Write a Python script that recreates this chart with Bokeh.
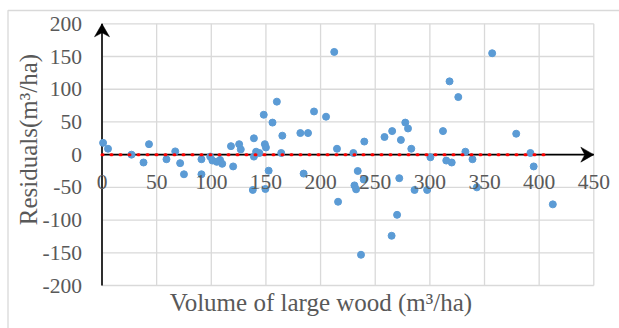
from bokeh.plotting import figure
from bokeh.models import Range1d
from bokeh.core.properties import value
from bokeh.embed import file_html
from bokeh.resources import INLINE

# ---- data ----
volume = [1, 5.5, 27, 38, 43, 59, 67, 71.5, 75, 91, 91, 99, 101, 105, 108, 110,
          118, 120, 125.5, 127, 138, 139, 139, 141, 144, 148, 149, 150, 149.5, 152.5,
          156, 160, 164, 165, 181.5, 184.5, 188.5, 194, 205, 212.5, 215, 216,
          230, 231, 232.5, 234, 237, 239.5, 240, 258.5, 265, 265.5, 270, 272,
          273.5, 277.5, 280, 283, 286, 297.5, 300.5, 312, 315, 318, 320, 326,
          332.5, 339, 343, 357, 379, 392, 395, 412.5]
residuals = [18, 9, 0, -12, 16, -7, 5, -13, -30, -7, -30, -3, -9, -11, -8, -14,
             13, -18, 16, 8, -54, -3, 25, 4.5, 2.5, 61, 16, 11, -52.5, -24.5,
             49, 81, 2.5, 29, 33, -29, 33, 66, 58, 157, 9, -72,
             2.5, -47, -53, -25, -153, -38, 20, 27, -124, 36, -92, -36,
             22.5, 49, 40, 9, -54, -54, -4, 36, -9, 112, -12, 88,
             4.5, -7, -50, 155, 32, 2.5, -18, -76]
zero_line_x = [0, 410]
zero_line_y = [0, 0]
x_ticks = [0, 50, 100, 150, 200, 250, 300, 350, 400, 450]
x_tick_labels = ["0", "50", "100", "150", "200", "250", "300", "350", "400", "450"]
y_ticks = [-200, -150, -100, -50, 0, 50, 100, 150, 200]
y_tick_labels = ["-200", "-150", "-100", "-50", "0", "50", "100", "150", "200"]
x_title = "Volume of large wood (m\u00b3/ha)"
y_title = "Residuals(m\u00b3/ha)"

W, H = 619, 328
# plot-area pixel box in the page
PL, PR, PT, PB = 101.5, 593.3, 23.3, 285.0
x0, x1 = x_ticks[0], x_ticks[-1]
y0, y1 = y_ticks[0], y_ticks[-1]
kx = (PR - PL) / (x1 - x0)
ky = (PB - PT) / (y1 - y0)


def dx(px):
    return x0 + (px - PL) / kx


def dy(py):
    return y1 - (py - PT) / ky


def px_of_x(x):
    return PL + (x - x0) * kx


def py_of_y(y):
    return PT + (y1 - y) * ky


FONT = value("Liberation Serif")
GRAY = "#595959"
GRID = "#d9d9d9"

p = figure(width=W, height=H, output_backend="svg", toolbar_location=None,
           x_range=Range1d(dx(0), dx(W)), y_range=Range1d(dy(H), dy(0)),
           min_border=0)
p.axis.visible = False
p.grid.visible = False
p.outline_line_color = None
p.background_fill_color = "white"
p.border_fill_color = "white"

# outer chart border (left & top visible)
p.line([dx(7.5), dx(7.5), dx(W + 20)], [dy(H + 20), dy(10), dy(10)],
       line_color=GRID, line_width=1.3)

# grid lines
p.segment(x0=x_ticks, y0=[y0] * len(x_ticks), x1=x_ticks, y1=[y1] * len(x_ticks),
          line_color=GRID, line_width=1.3)
p.segment(x0=[x0] * len(y_ticks), y0=y_ticks, x1=[x1] * len(y_ticks), y1=y_ticks,
          line_color=GRID, line_width=1.3)

# axis lines with arrow heads
p.segment(x0=[x0, x0], y0=[y0, 0], x1=[x0, x1], y1=[y1, 0],
          line_color="black", line_width=1.6)
L, HW, N = 13, 7.5, 4  # head length, half width, notch (px)
tx, ty = px_of_x(x1), py_of_y(0)
head_x = [dx(tx), dx(tx - L), dx(tx - L + N), dx(tx - L)]
head_y = [dy(ty), dy(ty - HW), dy(ty), dy(ty + HW)]
ux, uy = px_of_x(x0), py_of_y(y1)
head2_x = [dx(ux), dx(ux - HW), dx(ux), dx(ux + HW)]
head2_y = [dy(uy), dy(uy + L), dy(uy + L - N), dy(uy + L)]
p.patches([head_x, head2_x], [head_y, head2_y], fill_color="black", line_color="black",
          line_width=0.5)

p.scatter(volume, residuals, size=7, color="#5b9bd5")
p.line(zero_line_x, zero_line_y, line_color="red", line_width=3, line_dash="1 8",
       line_cap="round")

# tick labels
p.text(x=x_ticks, y=[0] * len(x_ticks), text=x_tick_labels, y_offset=27,
       text_align="center", text_baseline="middle",
       text_font=FONT, text_font_size="21.5px", text_color=GRAY)
p.text(x=[x0] * len(y_ticks), y=y_ticks, text=y_tick_labels, x_offset=-20,
       text_align="right", text_baseline="middle",
       text_font=FONT, text_font_size="21.5px", text_color=GRAY)

# axis titles
p.text(x=[dx(28)], y=[dy(139)], text=[y_title], angle=1.5707963,
       text_align="center", text_baseline="middle",
       text_font=FONT, text_font_size="25px", text_color=GRAY)
p.text(x=[dx(320.5)], y=[dy(301.7)], text=[x_title],
       text_align="center", text_baseline="middle",
       text_font=FONT, text_font_size="25px", text_color=GRAY)

open("out.html", "w").write(file_html(p, INLINE))
